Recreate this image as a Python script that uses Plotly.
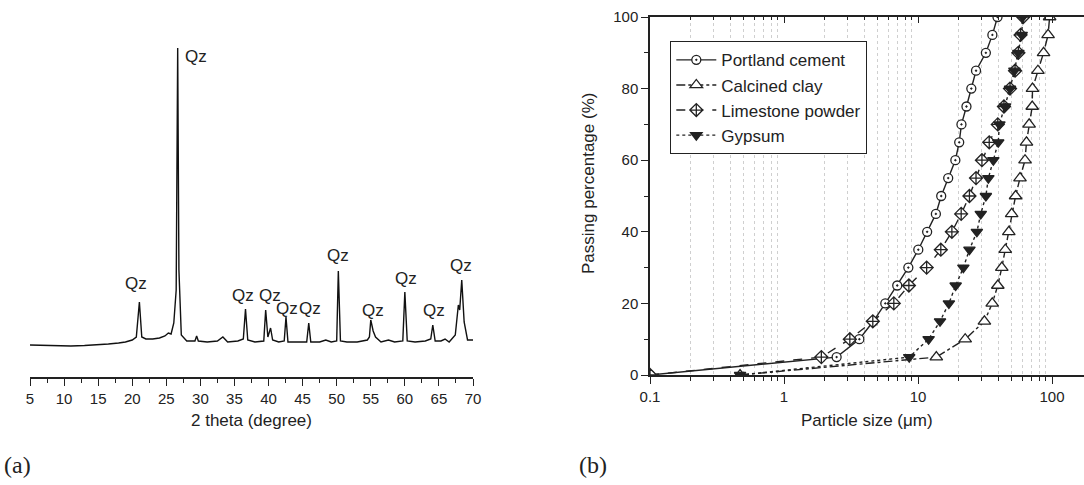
import plotly.graph_objects as go

# ---------------- (a) XRD pattern ----------------
two_theta = [5, 7, 9, 11, 13, 15, 16.5, 18, 19, 20, 20.6, 21.05, 21.4, 22, 23, 24, 24.8, 25.3,
             25.7, 26.1, 26.45, 26.67, 26.85, 27.2, 28, 29.2, 29.45, 29.7, 31, 32.5, 33.3, 34,
             35.5, 36.3, 36.62, 36.95, 38, 39.3, 39.58, 39.9, 40.3, 40.6, 41.5, 42.3, 42.56,
             42.85, 44, 45.6, 45.9, 46.2, 47.5, 48.4, 49.2, 50.0, 50.24, 50.55, 51.5, 53, 54.5,
             54.8, 55.0, 55.35, 55.7, 56.5, 57.6, 58.5, 59.7, 60.0, 60.35, 61.5, 63, 63.8, 64.1,
             64.45, 65.3, 65.9, 66.5, 67.4, 67.85, 68.05, 68.35, 68.7, 69.2, 70]
intensity = [350, 345, 340, 340, 345, 350, 360, 370, 380, 400, 430, 780, 430, 410, 410, 420,
             440, 470, 460, 570, 900, 3320, 1100, 450, 390, 390, 440, 390, 380, 390, 430, 380,
             390, 410, 710, 400, 380, 390, 700, 430, 520, 400, 380, 390, 630, 380, 380, 380,
             570, 380, 380, 400, 380, 390, 1090, 390, 380, 380, 400, 430, 600, 490, 430, 380,
             400, 380, 390, 880, 390, 380, 390, 410, 550, 390, 390, 410, 380, 450, 750, 700,
             1000, 580, 400, 400]

qz_theta = [20.55, 29.36, 36.25, 40.2, 42.66, 46.1, 50.2, 55.3, 60.2, 64.3, 68.2]
qz_int = [970, 3240, 850, 850, 720, 720, 1250, 700, 1020, 700, 1150]
xrd_ticks = [5, 10, 15, 20, 25, 30, 35, 40, 45, 50, 55, 60, 65, 70]

# ---------------- (b) particle size distribution ----------------
pass_pct = [0, 5, 10, 15, 20, 25, 30, 35, 40, 45, 50, 55, 60, 65, 70, 75, 80, 85, 90, 95, 100]
pc_size = [0.1, 2.47, 3.65, 4.64, 5.7, 7.0, 8.47, 10.05, 11.7, 13.6, 14.9, 16.8, 19.0, 20.3,
           21.1, 23.0, 25.0, 27.1, 32.1, 35.9, 39.2]
cc_size = [0.47, 13.7, 22.5, 31.3, 35.8, 39.4, 42.2, 44.8, 47.6, 50.0, 53.5, 57.7, 62.9, 64.5,
           67.5, 71.2, 71.5, 78.5, 86.5, 93.5, 96.0]
ls_size = [0.1, 1.9, 3.1, 4.6, 6.6, 8.55, 11.6, 14.8, 17.9, 21.0, 24.2, 27.1, 30.0, 34.0,
           39.4, 43.8, 48.6, 53.0, 56.1, 58.3, 61.0]
gy_size = [0.47, 8.6, 12.0, 14.6, 17.0, 19.1, 21.8, 24.2, 27.5, 29.4, 32.1, 33.5, 36.5, 39.7,
           40.5, 44.6, 48.6, 52.4, 56.1, 59.4, 60.4]

psd_major = [0.1, 1, 10, 100]
psd_major_text = ["0.1", "1", "10", "100"]
psd_minor = [m * 10 ** e for e in (-1, 0, 1, 2) for m in range(2, 10)]
pass_ticks = [0, 20, 40, 60, 80, 100]

W, H = 1084, 485
INK = "#222222"
SANS = "Liberation Sans, Arial, sans-serif"
SERIF = "Liberation Serif, Times New Roman, serif"


def px(xp):
    return xp / W


def py(yp):
    return (H - yp) / H


fig = go.Figure()

fig.add_trace(go.Scatter(x=two_theta, y=intensity, mode="lines",
                         line=dict(color="#111111", width=1.4),
                         xaxis="x", yaxis="y", showlegend=False, hoverinfo="skip"))

series = [
    ("Portland cement", pc_size, "solid", "circle-dot", 9, "white"),
    ("Calcined clay", cc_size, "dashdot", "triangle-up", 11, "white"),
    ("Limestone powder", ls_size, "dash", "diamond-cross", 10, "white"),
    ("Gypsum", gy_size, "dot", "triangle-down", 10, "#222222"),
]
for name, sizes, dash, sym, msz, fill in series:
    fig.add_trace(go.Scatter(
        x=sizes, y=pass_pct, name=name, mode="lines+markers",
        line=dict(color=INK, width=1.4, dash=dash),
        marker=dict(symbol=sym, size=msz, color=fill, line=dict(color=INK, width=1.3)),
        xaxis="x2", yaxis="y2"))

# invisible helper trace so the top (inward-tick) axis is drawn
fig.add_trace(go.Scatter(x=pc_size, y=pass_pct, mode="lines", line=dict(width=0),
                         opacity=0, showlegend=False, hoverinfo="skip",
                         xaxis="x3", yaxis="y2"))

annotations = []
for t, i in zip(qz_theta, qz_int):
    annotations.append(dict(x=t, y=i, xref="x", yref="y", text="Qz", showarrow=False,
                            xanchor="center", yanchor="middle",
                            font=dict(family=SANS, size=17, color=INK)))


def paper_text(x, y, text, size=17, family=SANS, xanchor="center", angle=0):
    return dict(x=px(x), y=py(y), xref="paper", yref="paper", text=text, showarrow=False,
                xanchor=xanchor, yanchor="middle", textangle=angle,
                font=dict(family=family, size=size, color=INK))


annotations += [
    paper_text(251.5, 420, "2 theta (degree)"),
    paper_text(867, 420, "Particle size (μm)"),
    paper_text(588, 184, "Passing percentage (%)", angle=-90),
    paper_text(2, 465, "(a)", size=24, family=SERIF, xanchor="left"),
    paper_text(577, 465, "(b)", size=24, family=SERIF, xanchor="left"),
]

x2_range = [-1, -1 + (W - 650) / 134.0]

fig.update_layout(
    width=W, height=H, autosize=False,
    margin=dict(l=0, r=0, t=0, b=0, pad=0),
    paper_bgcolor="white", plot_bgcolor="white",
    font=dict(family=SANS, color=INK),
    showlegend=True,
    legend=dict(x=px(670), y=py(41), xanchor="left", yanchor="top",
                bgcolor="white", bordercolor=INK, borderwidth=1.3, itemwidth=40,
                font=dict(family=SANS, size=17, color=INK), tracegroupgap=0),
    annotations=annotations,
    xaxis=dict(domain=[px(30), px(473)], range=[5, 70], anchor="y", automargin=False,
               showline=True, linecolor=INK, linewidth=1.5, showgrid=False, zeroline=False,
               tickmode="array", tickvals=xrd_ticks, ticks="outside", ticklen=7,
               tickwidth=1.3, tickcolor=INK, tickfont=dict(size=15, color=INK),
               minor=dict(dtick=2.5, tick0=5, ticks="outside", ticklen=4, tickwidth=1.2,
                          tickcolor=INK, showgrid=False)),
    yaxis=dict(domain=[py(377), py(40)], range=[30, 3400], anchor="x", visible=False,
               automargin=False),
    xaxis2=dict(domain=[px(650), 1.0], type="log", range=x2_range, anchor="y2",
                automargin=False,
                showline=True, linecolor=INK, linewidth=1.5, mirror=False,
                showgrid=False, zeroline=False,
                tickmode="array", tickvals=psd_major, ticktext=psd_major_text,
                ticks="outside", ticklen=7, tickwidth=1.3, tickcolor=INK,
                tickfont=dict(size=15, color=INK),
                minor=dict(tickmode="array", tickvals=psd_minor, ticks="outside", ticklen=4,
                           tickwidth=1.1, tickcolor=INK, showgrid=True,
                           gridcolor="#cfcfcf", griddash="dot", gridwidth=1)),
    xaxis3=dict(type="log", range=x2_range, overlaying="x2", side="top", anchor="y2",
                automargin=False,
                showline=True, linecolor=INK, linewidth=1.5, showgrid=False, zeroline=False,
                showticklabels=False, tickmode="array", tickvals=psd_major,
                ticks="inside", ticklen=6, tickwidth=1.3, tickcolor=INK,
                minor=dict(tickmode="array", tickvals=psd_minor, ticks="inside", ticklen=3,
                           tickwidth=1.1, tickcolor=INK, showgrid=False)),
    yaxis2=dict(domain=[py(375), py(17)], range=[0, 100], anchor="x2", automargin=False,
                showline=True, linecolor=INK, linewidth=1.5, mirror=False,
                showgrid=False, zeroline=False,
                tickmode="array", tickvals=pass_ticks, ticks="outside", ticklen=7,
                tickwidth=1.3, tickcolor=INK, tickfont=dict(size=15, color=INK),
                minor=dict(dtick=10, ticks="outside", ticklen=4, tickwidth=1.2,
                           tickcolor=INK, showgrid=False)),
)

post = ("document.documentElement.style.margin='0';document.documentElement.style.padding='0';"
        "document.body.style.margin='0';document.body.style.padding='0';"
        "document.body.style.overflow='hidden';")
fig.write_html("out.html", config={"responsive": False}, post_script=post)
